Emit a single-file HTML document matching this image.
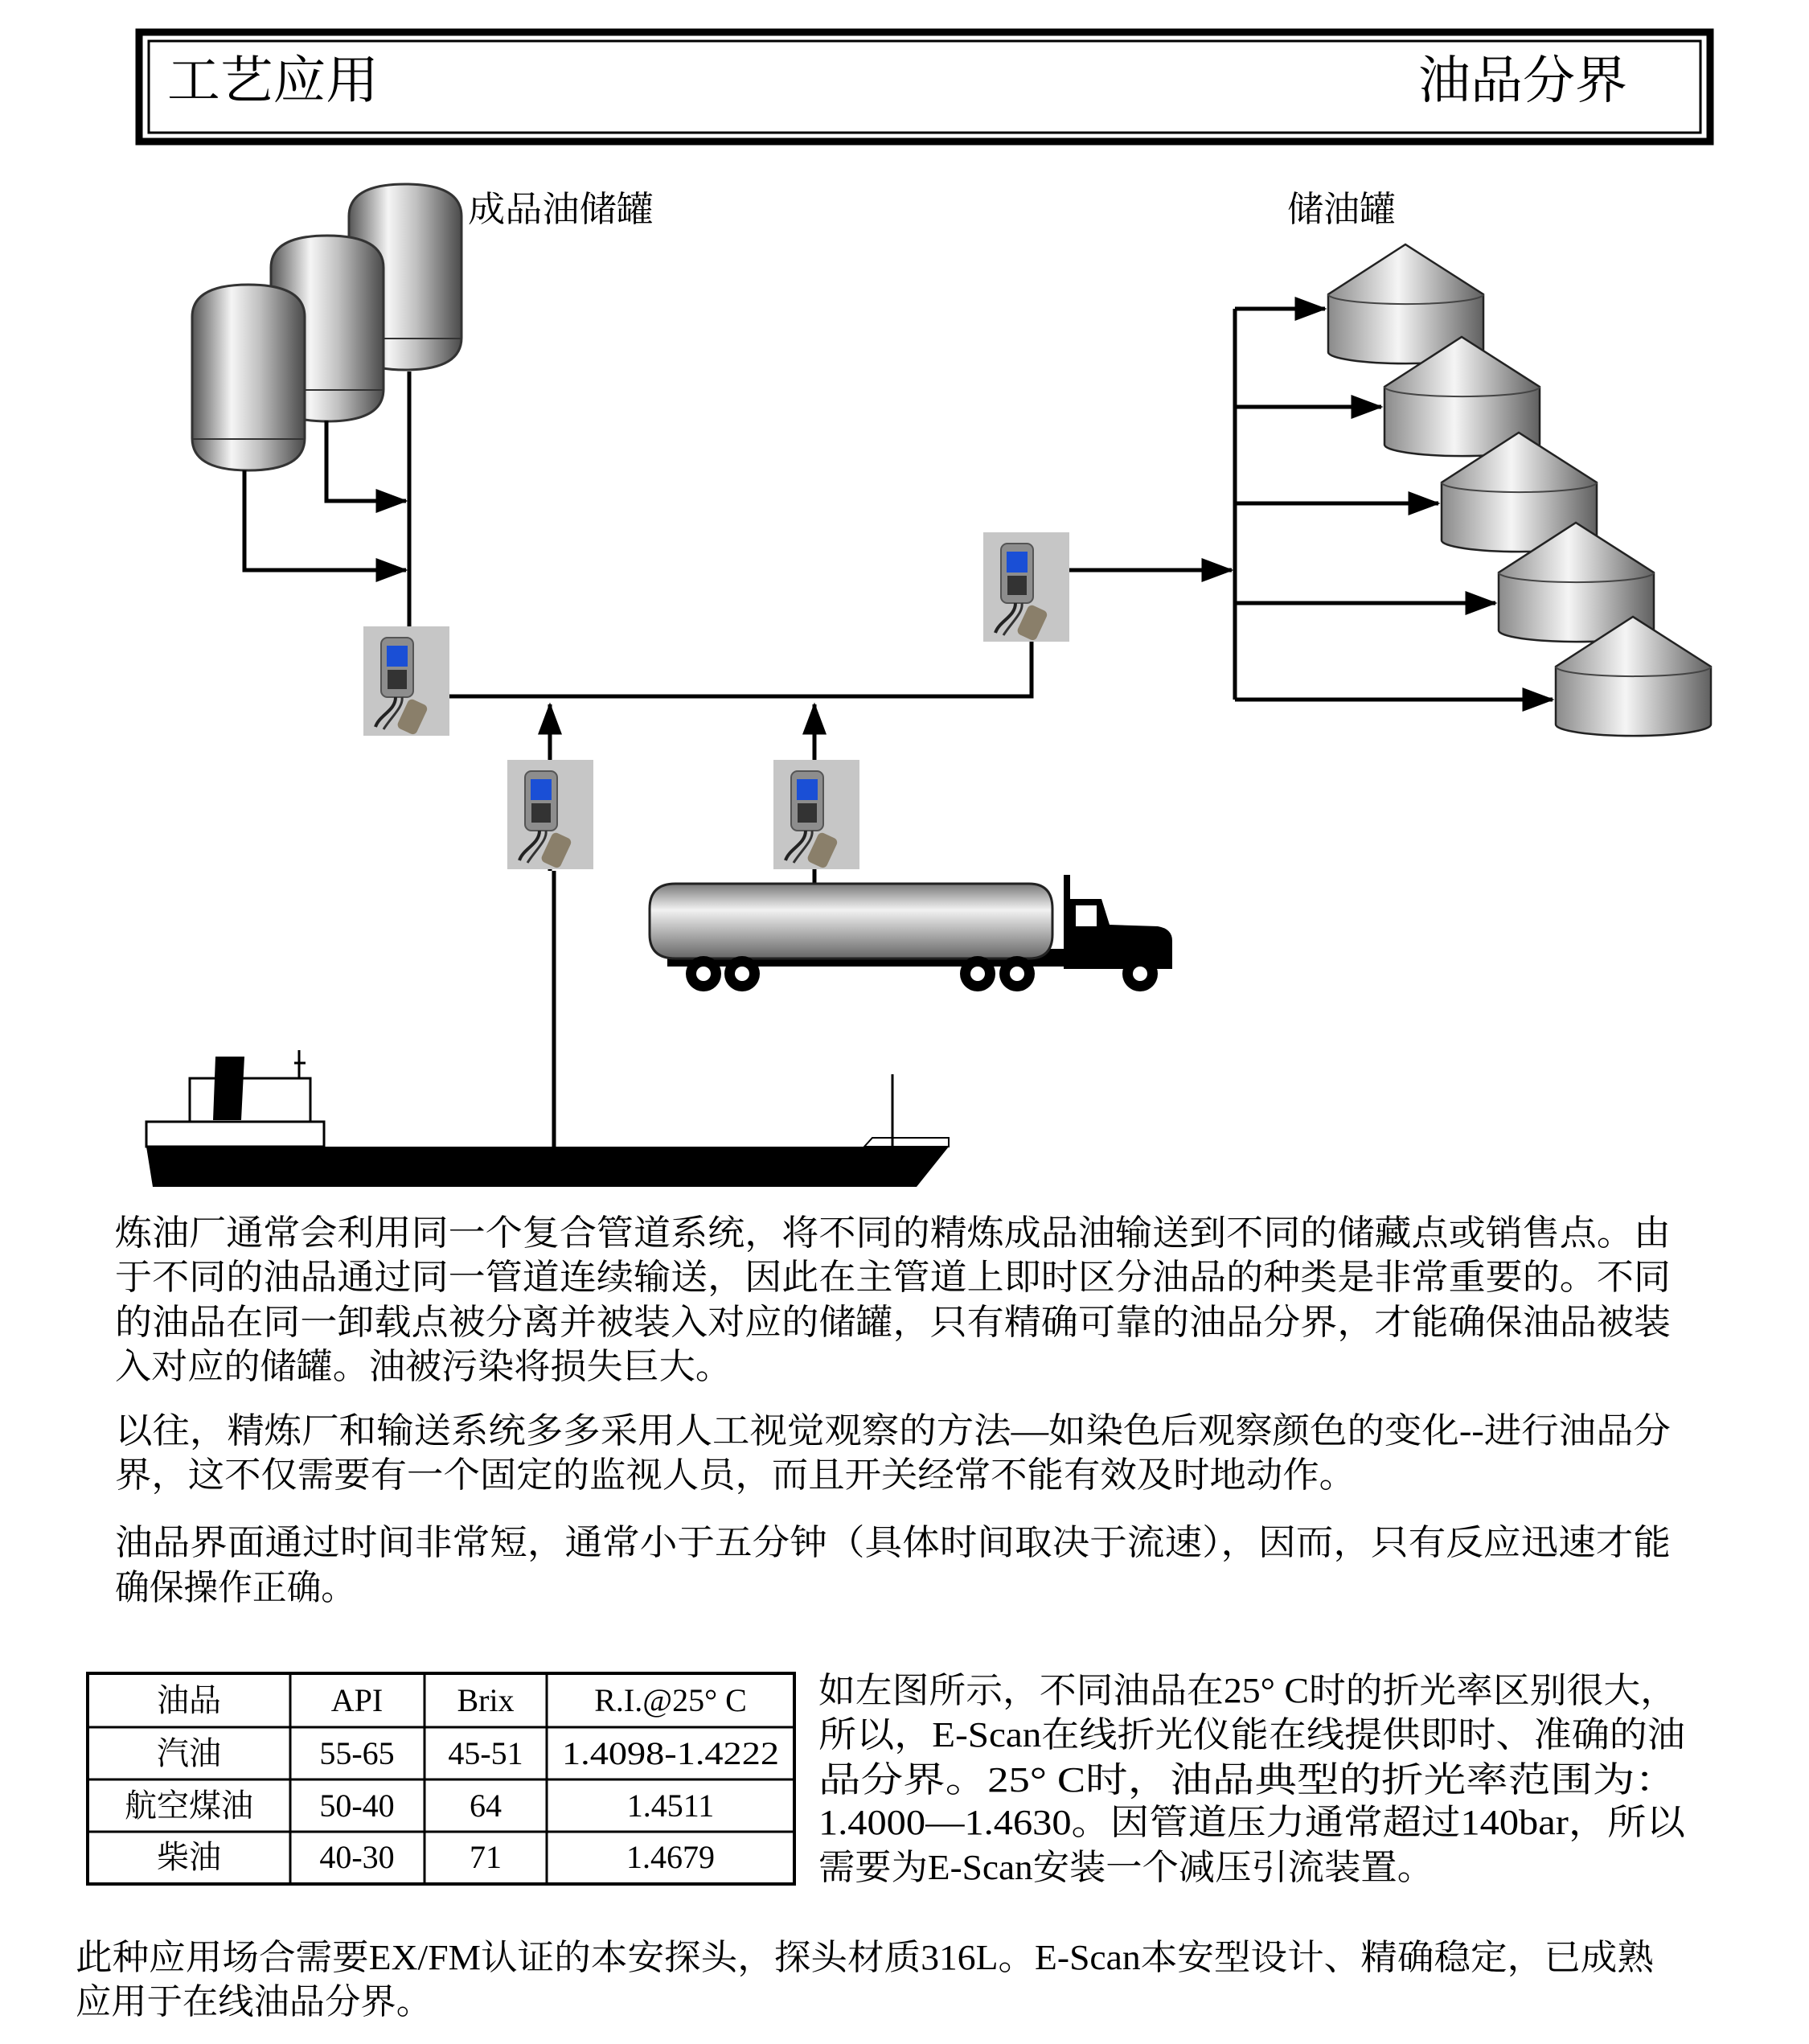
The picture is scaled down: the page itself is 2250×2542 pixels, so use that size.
<!DOCTYPE html>
<html><head><meta charset="utf-8"><style>
html,body{margin:0;padding:0;background:#fff;}
svg{display:block;}
text{font-family:"Liberation Serif","Noto Serif CJK SC","Noto Sans CJK SC",serif;fill:#000;}
</style></head><body>
<svg width="2250" height="2542" viewBox="0 0 2250 2542" xmlns="http://www.w3.org/2000/svg">
<defs>
<linearGradient id="tg" x1="0" x2="1" y1="0" y2="0">
<stop offset="0" stop-color="#555"/><stop offset="0.35" stop-color="#f5f5f5"/><stop offset="0.6" stop-color="#c0c0c0"/><stop offset="1" stop-color="#4a4a4a"/></linearGradient>
<linearGradient id="cg" x1="0" x2="1" y1="0" y2="0">
<stop offset="0" stop-color="#8a8a8a"/><stop offset="0.45" stop-color="#f5f5f5"/><stop offset="1" stop-color="#606060"/></linearGradient>
<linearGradient id="vg" x1="0" x2="0" y1="0" y2="1">
<stop offset="0" stop-color="#777"/><stop offset="0.35" stop-color="#f2f2f2"/><stop offset="1" stop-color="#666"/></linearGradient>
<marker id="ah" markerWidth="8" markerHeight="6" refX="7.5" refY="3" orient="auto" markerUnits="strokeWidth">
<path d="M0,0 L8,3 L0,6 z" fill="#000"/></marker>
<g id="dev">
<rect x="0" y="0" width="107" height="136" fill="#cfcfcf"/>
<rect x="0" y="0" width="107" height="136" fill="#b9b9b9" opacity="0.4"/>
<rect x="22" y="14" width="40" height="74" rx="8" fill="#8d8d8d" stroke="#555" stroke-width="2"/>
<rect x="29" y="24" width="26" height="26" fill="#1a4fd6"/>
<rect x="30" y="54" width="24" height="24" fill="#333"/>
<path d="M40,88 C40,105 20,110 15,125" stroke="#222" stroke-width="4" fill="none"/>
<path d="M48,88 C50,100 35,112 25,128" stroke="#333" stroke-width="3" fill="none"/>
<rect x="48" y="92" width="26" height="40" rx="6" fill="#8a7f6a" transform="rotate(25 60 112)"/>
</g>
<g id="tank">
<path d="M0,40 Q0,0 70,0 Q140,0 140,40 L140,191 Q140,231 70,231 Q0,231 0,191 Z" fill="url(#tg)" stroke="#333" stroke-width="3"/>
<path d="M0,192 L140,192" stroke="#333" stroke-width="2"/>
</g>
<g id="silo">
<path d="M0,62 L96,0 L193,62 L193,134 A96,14 0 0 1 0,134 Z" fill="url(#cg)" stroke="#222" stroke-width="2.5"/>
<path d="M0,62 A96,12 0 0 0 193,62" fill="none" stroke="#444" stroke-width="2"/>
</g>
</defs>

<rect x="173" y="40" width="1954" height="136" fill="none" stroke="#000" stroke-width="9"/>
<rect x="185" y="51" width="1930" height="114" fill="none" stroke="#000" stroke-width="3"/>
<text x="208" y="122" font-size="64" textLength="263" lengthAdjust="spacingAndGlyphs">工艺应用</text>
<text x="1764" y="122" font-size="64" textLength="260" lengthAdjust="spacingAndGlyphs">油品分界</text>

<text x="582" y="275" font-size="44" textLength="231" lengthAdjust="spacingAndGlyphs">成品油储罐</text>
<text x="1601" y="275" font-size="44" textLength="135" lengthAdjust="spacingAndGlyphs">储油罐</text>

<use href="#tank" x="434" y="229"/>
<use href="#tank" x="337" y="293"/>
<use href="#tank" x="239" y="354"/>

<g stroke="#000" stroke-width="5" fill="none">
<path d="M304,585 L304,709 L505,709" marker-end="url(#ah)"/>
<path d="M406,523 L406,623 L505,623" marker-end="url(#ah)"/>
<path d="M509,462 L509,780"/>
<path d="M559,866 L1283,866 L1283,798"/>
<path d="M684,1083 L684,876" marker-end="url(#ah)"/>
<path d="M1013,1083 L1013,876" marker-end="url(#ah)"/>
<path d="M689,1083 L689,1432"/>
<path d="M1013,1083 L1013,1105"/>
<path d="M1330,709 L1532,709" marker-end="url(#ah)"/>
<path d="M1536,384 L1536,870"/>
</g>

<use href="#silo" x="1652" y="304"/>
<use href="#silo" x="1722" y="419"/>
<use href="#silo" x="1793" y="538"/>
<use href="#silo" x="1864" y="650"/>
<use href="#silo" x="1935" y="767"/>
<g stroke="#000" stroke-width="5" fill="none">
<path d="M1536,384 L1648,384" marker-end="url(#ah)"/>
<path d="M1536,506 L1718,506" marker-end="url(#ah)"/>
<path d="M1536,626 L1789,626" marker-end="url(#ah)"/>
<path d="M1536,750 L1860,750" marker-end="url(#ah)"/>
<path d="M1536,870 L1931,870" marker-end="url(#ah)"/>
</g>

<use href="#dev" x="452" y="779"/>
<use href="#dev" x="1223" y="662"/>
<use href="#dev" x="631" y="945"/>
<use href="#dev" x="962" y="945"/>

<rect x="830" y="1180" width="500" height="22" fill="#000"/>
<path d="M808,1130 Q808,1099 840,1099 L1280,1099 Q1309,1099 1309,1130 L1309,1162 Q1309,1192 1280,1192 L840,1192 Q808,1192 808,1162 Z" fill="url(#vg)" stroke="#222" stroke-width="3"/>
<path d="M1323,1118 L1370,1118 L1380,1150 L1440,1152 Q1458,1155 1458,1170 L1458,1205 L1323,1205 Z" fill="#000"/>
<rect x="1323" y="1088" width="8" height="40" fill="#000"/>
<rect x="1338" y="1126" width="26" height="26" fill="#fff"/>
<g fill="#000"><circle cx="875" cy="1211" r="22"/><circle cx="923" cy="1211" r="22"/><circle cx="1216" cy="1211" r="22"/><circle cx="1265" cy="1211" r="22"/><circle cx="1418" cy="1211" r="22"/></g>
<g fill="#fff"><circle cx="875" cy="1211" r="9"/><circle cx="923" cy="1211" r="9"/><circle cx="1216" cy="1211" r="9"/><circle cx="1265" cy="1211" r="9"/><circle cx="1418" cy="1211" r="9"/></g>

<path d="M182,1426 L1180,1426 L1140,1476 L190,1476 Z" fill="#000"/>
<rect x="182" y="1395" width="221" height="31" fill="#fff" stroke="#000" stroke-width="3"/>
<rect x="236" y="1341" width="150" height="54" fill="#fff" stroke="#000" stroke-width="3"/>
<path d="M268,1314 L304,1314 L300,1393 L265,1393 Z" fill="#000"/>
<path d="M372,1306 L372,1341 M366,1322 L380,1322" stroke="#000" stroke-width="3"/>
<path d="M1075,1426 L1085,1415 L1180,1415 L1180,1426 Z" fill="#fff" stroke="#000" stroke-width="2"/>
<path d="M1110,1336 L1110,1426" stroke="#000" stroke-width="3"/>

<g font-size="44">
<text x="143" y="1548" textLength="1935" lengthAdjust="spacingAndGlyphs">炼油厂通常会利用同一个复合管道系统，将不同的精炼成品油输送到不同的储藏点或销售点。由</text>
<text x="143" y="1603" textLength="1935" lengthAdjust="spacingAndGlyphs">于不同的油品通过同一管道连续输送，因此在主管道上即时区分油品的种类是非常重要的。不同</text>
<text x="143" y="1659" textLength="1935" lengthAdjust="spacingAndGlyphs">的油品在同一卸载点被分离并被装入对应的储罐，只有精确可靠的油品分界，才能确保油品被装</text>
<text x="143" y="1714" textLength="767" lengthAdjust="spacingAndGlyphs">入对应的储罐。油被污染将损失巨大。</text>
<text x="143" y="1794" textLength="1935" lengthAdjust="spacingAndGlyphs">以往，精炼厂和输送系统多多采用人工视觉观察的方法—如染色后观察颜色的变化--进行油品分</text>
<text x="143" y="1849" textLength="1543" lengthAdjust="spacingAndGlyphs">界，这不仅需要有一个固定的监视人员，而且开关经常不能有效及时地动作。</text>
<text x="143" y="1933" textLength="1935" lengthAdjust="spacingAndGlyphs">油品界面通过时间非常短，通常小于五分钟（具体时间取决于流速），因而，只有反应迅速才能</text>
<text x="143" y="1989" textLength="299" lengthAdjust="spacingAndGlyphs">确保操作正确。</text>

<text x="1018" y="2117" textLength="1068" lengthAdjust="spacingAndGlyphs">如左图所示，不同油品在25° C时的折光率区别很大，</text>
<text x="1018" y="2172" textLength="1078" lengthAdjust="spacingAndGlyphs">所以，E-Scan在线折光仪能在线提供即时、准确的油</text>
<text x="1018" y="2228" textLength="1068" lengthAdjust="spacingAndGlyphs">品分界。25° C时，油品典型的折光率范围为：</text>
<text x="1018" y="2281" textLength="1078" lengthAdjust="spacingAndGlyphs">1.4000—1.4630。因管道压力通常超过140bar，所以</text>
<text x="1018" y="2337" textLength="765" lengthAdjust="spacingAndGlyphs">需要为E-Scan安装一个减压引流装置。</text>

<text x="94" y="2449" textLength="1963" lengthAdjust="spacingAndGlyphs">此种应用场合需要EX/FM认证的本安探头，探头材质316L。E-Scan本安型设计、精确稳定，已成熟</text>
<text x="94" y="2504" textLength="443" lengthAdjust="spacingAndGlyphs">应用于在线油品分界。</text>
</g>

<g stroke="#000" fill="none">
<rect x="109" y="2081" width="879" height="262" stroke-width="4"/>
<path d="M361,2081 V2343 M528,2081 V2343 M680,2081 V2343 M109,2148 H988 M109,2213 H988 M109,2278 H988" stroke-width="3"/>
</g>
<g font-size="40" text-anchor="middle">
<text x="235" y="2128">油品</text><text x="444" y="2128">API</text><text x="604" y="2128">Brix</text><text x="834" y="2128">R.I.@25° C</text>
<text x="235" y="2194">汽油</text><text x="444" y="2194">55-65</text><text x="604" y="2194">45-51</text><text x="834" y="2194" textLength="270" lengthAdjust="spacingAndGlyphs">1.4098-1.4222</text>
<text x="235" y="2259">航空煤油</text><text x="444" y="2259">50-40</text><text x="604" y="2259">64</text><text x="834" y="2259">1.4511</text>
<text x="235" y="2323">柴油</text><text x="444" y="2323">40-30</text><text x="604" y="2323">71</text><text x="834" y="2323">1.4679</text>
</g>
</svg>
</body></html>
